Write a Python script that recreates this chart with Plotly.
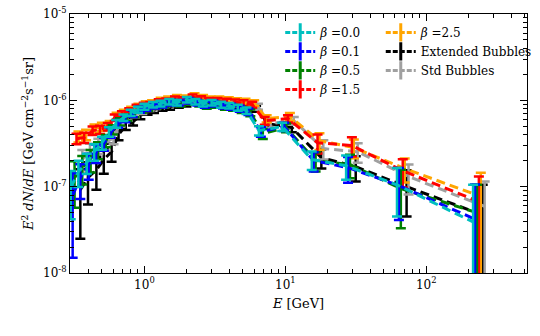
import plotly.graph_objects as go

# Energy bins [GeV] (first series); other series are drawn slightly shifted
E_GEV = [0.30, 0.34, 0.39, 0.44, 0.50, 0.56, 0.63, 0.71, 0.80, 0.90, 1.0, 1.15, 1.3, 1.5,
         1.7, 2.0, 2.3, 2.6, 3.0, 3.5, 4.0, 4.6, 5.3, 6.5, 9.5, 15.4, 27.0, 62.0, 215.0]

# E^2 dN/dE in units of 1e-7 GeV cm^-2 s^-1 sr
UNIT = 1e-7

FLUX_B00 = [0.97, 1.49, 1.90, 2.54, 3.23, 4.34, 5.37, 6.30, 7.20, 7.80, 8.45, 8.91, 9.16, 9.66,
            9.40, 10.19, 9.66, 9.16, 9.40, 8.91, 8.68, 8.23, 7.60, 4.46, 4.96, 2.06, 1.75, 1.05, 0.39]
ERR_B00 = [0.55, 0.50, 0.50, 0.55, 0.55, 0.55, 0.55, 0.55, 0.60, 0.60, 0.65, 0.65, 0.70, 0.70,
           0.70, 0.75, 0.70, 0.70, 0.70, 0.70, 0.65, 0.65, 0.65, 0.55, 0.55, 0.50, 0.55, 0.60, 0.66]

FLUX_B01 = [0.79, 1.27, 1.80, 2.48, 3.15, 4.23, 5.37, 6.14, 7.01, 7.80, 8.23, 8.68, 8.91, 9.40,
            9.40, 9.92, 9.40, 8.91, 9.16, 8.68, 8.45, 8.01, 7.40, 4.34, 4.96, 2.00, 1.66, 1.03, 0.42]
ERR_B01 = [0.64, 0.55, 0.60, 0.60, 0.55, 0.55, 0.55, 0.55, 0.60, 0.60, 0.65, 0.65, 0.65, 0.70,
           0.70, 0.75, 0.70, 0.70, 0.70, 0.65, 0.65, 0.65, 0.65, 0.55, 0.55, 0.50, 0.55, 0.62, 0.64]

FLUX_B05 = [1.27, 1.66, 2.06, 2.68, 3.41, 4.58, 5.66, 6.30, 7.01, 7.80, 8.23, 8.68, 8.91, 9.40,
            9.16, 9.66, 9.16, 8.68, 8.91, 8.45, 8.23, 7.80, 7.20, 4.11, 4.83, 2.00, 1.80, 0.95, 0.50]
ERR_B05 = [0.70, 0.60, 0.60, 0.60, 0.55, 0.55, 0.55, 0.55, 0.60, 0.60, 0.65, 0.65, 0.65, 0.70,
           0.70, 0.75, 0.70, 0.70, 0.70, 0.65, 0.65, 0.65, 0.65, 0.55, 0.55, 0.50, 0.55, 0.62, 0.55]

FLUX_B15 = [3.60, 3.70, 4.46, 4.58, 4.96, 6.30, 6.90, 7.50, 8.30, 8.70, 8.90, 9.60, 9.80, 10.30,
            10.10, 10.90, 10.40, 9.90, 9.90, 9.70, 9.50, 9.30, 8.90, 5.82, 6.14, 3.23, 2.99, 1.53, 0.67]
ERR_B15 = [0.50, 0.50, 0.50, 0.50, 0.50, 0.55, 0.55, 0.60, 0.60, 0.65, 0.65, 0.70, 0.70, 0.75,
           0.75, 0.80, 0.75, 0.75, 0.75, 0.70, 0.70, 0.70, 0.70, 0.60, 0.60, 0.80, 0.75, 0.55, 0.64]

FLUX_B25 = [3.80, 4.01, 4.70, 4.96, 5.23, 6.60, 7.20, 7.80, 8.50, 9.10, 9.30, 10.00, 10.30, 10.80,
            10.60, 11.30, 10.80, 10.30, 10.30, 10.10, 9.90, 9.70, 9.30, 6.14, 6.47, 3.41, 2.83, 1.62, 0.77]
ERR_B25 = [0.55, 0.55, 0.55, 0.55, 0.55, 0.60, 0.60, 0.60, 0.65, 0.65, 0.70, 0.70, 0.75, 0.75,
           0.75, 0.80, 0.75, 0.75, 0.75, 0.75, 0.70, 0.70, 0.70, 0.60, 0.65, 0.75, 0.70, 0.50, 0.68]

FLUX_EXT = [0.92, 1.27, 1.57, 2.06, 2.54, 4.01, 5.09, 5.66, 6.65, 7.40, 7.80, 8.23, 8.45, 8.91,
            9.16, 9.66, 9.16, 8.91, 8.91, 8.68, 8.68, 8.45, 8.01, 5.37, 4.83, 2.17, 1.70, 1.00, 0.47]
ERR_EXT = [0.67, 0.65, 0.65, 0.65, 0.60, 0.55, 0.55, 0.55, 0.60, 0.60, 0.65, 0.65, 0.65, 0.70,
           0.70, 0.70, 0.70, 0.70, 0.70, 0.65, 0.65, 0.65, 0.65, 0.55, 0.55, 0.55, 0.55, 0.55, 0.58]

FLUX_STD = [2.06, 2.54, 2.99, 3.23, 3.70, 5.50, 6.40, 6.95, 7.55, 8.15, 8.60, 9.05, 9.30, 9.80,
            9.80, 10.30, 9.80, 9.55, 9.55, 9.30, 9.10, 8.90, 8.45, 5.37, 5.82, 2.76, 2.54, 1.31, 0.59]
ERR_STD = [0.60, 0.60, 0.60, 0.60, 0.60, 0.55, 0.60, 0.60, 0.60, 0.65, 0.65, 0.70, 0.70, 0.70,
           0.70, 0.75, 0.70, 0.70, 0.70, 0.70, 0.65, 0.65, 0.65, 0.55, 0.60, 0.70, 0.65, 0.50, 0.56]

NOMBRES = ["<i>β</i> =0.0", "<i>β</i> =0.1", "<i>β</i> =0.5", "<i>β</i> =1.5",
           "<i>β</i> =2.5", "Extended Bubbles", "Std Bubbles"]
FLUJOS = [FLUX_B00, FLUX_B01, FLUX_B05, FLUX_B15, FLUX_B25, FLUX_EXT, FLUX_STD]
ERRORES = [ERR_B00, ERR_B01, ERR_B05, ERR_B15, ERR_B25, ERR_EXT, ERR_STD]
COLORES = ['#00BFBF', '#0000FF', '#008000', '#FF0000', '#FFA500', '#000000', '#A0A0A0']
LEYENDAS = ['legend', 'legend', 'legend', 'legend', 'legend2', 'legend2', 'legend2']

# small horizontal shift between series (like the original offsets)
DESPLAZ = [1.0, 1.032, 1.065, 1.099, 1.134, 1.17, 1.208]

FUENTE = "DejaVu Serif"
W, H = 540, 336

fig = go.Figure()

orden = [5, 6, 4, 3, 2, 1, 0]
for i in orden:
    xs = [e * DESPLAZ[i] for e in E_GEV]
    ys = [v * UNIT for v in FLUJOS[i]]
    es = [v * UNIT for v in ERRORES[i]]
    fig.add_trace(go.Scatter(
        x=xs, y=ys, mode='lines',
        line=dict(color=COLORES[i], width=3, dash='9px,5px'),
        error_y=dict(type='data', array=es, visible=True, color=COLORES[i],
                     thickness=2.5, width=5),
        showlegend=False, hoverinfo='skip'
    ))

# legend entries
for i in range(7):
    fig.add_trace(go.Scatter(
        x=[None], y=[None], mode='lines+markers',
        line=dict(color=COLORES[i], width=3, dash='5px,2px'),
        marker=dict(symbol='line-ns-open', size=13, line=dict(color=COLORES[i], width=3)),
        name=NOMBRES[i], legend=LEYENDAS[i]
    ))

x_minor = [m * 10 ** d for d in range(-1, 3) for m in range(2, 10)]
y_minor = [m * 10 ** d for d in range(-8, -5) for m in range(2, 10)]

fig.update_layout(
    width=W, height=H,
    margin=dict(l=70, r=3, t=14, b=63),
    paper_bgcolor='white', plot_bgcolor='white',
    font=dict(family=FUENTE, size=12, color='black'),
    xaxis=dict(
        type='log', range=[-0.528, 2.715],
        tickmode='array', tickvals=[1, 10, 100],
        ticktext=['10<sup>0</sup>', '10<sup>1</sup>', '10<sup>2</sup>'],
        ticks='inside', ticklen=7, tickcolor='black', mirror='allticks',
        showline=True, linecolor='black', linewidth=1.2, showgrid=False, zeroline=False,
        minor=dict(tickmode='array', tickvals=x_minor, ticks='inside', ticklen=4,
                   tickcolor='black', showgrid=False),
        title=dict(text="<i>E</i> [GeV]", font=dict(size=13), standoff=8),
        tickfont=dict(size=12)
    ),
    yaxis=dict(
        type='log', range=[-8, -5],
        tickmode='array', tickvals=[1e-8, 1e-7, 1e-6, 1e-5],
        ticktext=['10<sup>-8</sup>', '10<sup>-7</sup>', '10<sup>-6</sup>', '10<sup>-5</sup>'],
        ticks='inside', ticklen=7, tickcolor='black', mirror='allticks',
        showline=True, linecolor='black', linewidth=1.2, showgrid=False, zeroline=False,
        minor=dict(tickmode='array', tickvals=y_minor, ticks='inside', ticklen=4,
                   tickcolor='black', showgrid=False),
        title=dict(text="<i>E</i><sup>2</sup> <i>dN</i>/<i>dE</i> [GeV cm<sup>−2</sup>s<sup>−1</sup>sr]",
                   font=dict(size=13), standoff=6),
        tickfont=dict(size=12)
    ),
    legend=dict(x=0.46, y=0.985, xanchor='left', yanchor='top', bgcolor='rgba(0,0,0,0)',
                font=dict(size=12), tracegroupgap=0, itemwidth=30),
    legend2=dict(x=0.68, y=0.985, xanchor='left', yanchor='top', bgcolor='rgba(0,0,0,0)',
                 font=dict(size=12), tracegroupgap=0, itemwidth=30),
)

fig.write_html("out.html", config={'displayModeBar': False},
               post_script="document.body.style.margin='0';")
